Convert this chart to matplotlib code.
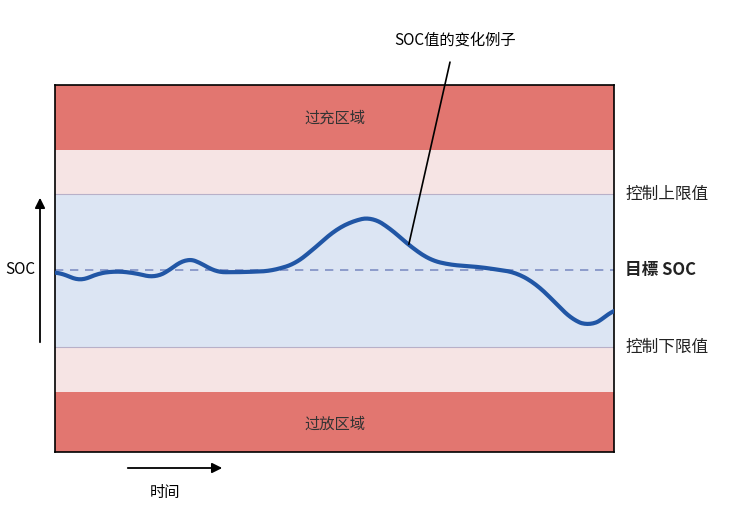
import matplotlib.pyplot as plt
import numpy as np

plt.rcParams['font.family'] = ['Noto Sans CJK SC', 'DejaVu Sans']

# band limits (SOC %, 0 bottom .. 100 top)
bands = [0, 16.3, 28.6, 70.3, 82.3, 100]
band_colors = ["#E27670", "#F6E4E4", "#DCE5F3", "#F6E4E4", "#E27670"]
target_soc = 49.6

t = [0, 1.8, 4.5, 7.2, 10.7, 14.3, 17.9, 20.6, 23.3, 25.9, 28.6, 33.1, 38.5,
     42.9, 46.5, 50.1, 53.7, 56.7, 59.9, 63.5, 67.1, 70.7, 76.0, 79.6, 82.3,
     85.9, 89.4, 92.5, 95.7, 98.4, 100]
soc = [49.0, 48.5, 46.3, 48.5, 49.3, 48.8, 47.4, 49.6, 52.9, 51.8, 49.0, 49.0,
       49.3, 51.2, 55.6, 60.5, 63.2, 64.0, 61.0, 56.1, 52.3, 51.0, 50.4, 49.6,
       49.0, 46.0, 40.9, 36.0, 34.3, 36.5, 39.2]

fig = plt.figure(figsize=(7.34, 5.15), dpi=100)
ax = fig.add_axes([0.0749, 0.1223, 0.7616, 0.7126])
for lo, hi, c in zip(bands[:-1], bands[1:], band_colors):
    ax.axhspan(lo, hi, color=c, zorder=0, lw=0)
for y in (bands[2], bands[3]):
    ax.axhline(y, color="#B8B0C8", lw=0.8, zorder=1)
ax.axhline(target_soc, color="#7F8FC4", lw=1.2, ls=(0, (5, 4)), zorder=2)

# light smoothing by interpolation between read points
tt = np.linspace(0, 100, 400)
ss = np.interp(tt, t, soc)
k = np.ones(15) / 15
ss = np.convolve(np.pad(ss, 7, mode="edge"), k, mode="valid")
ax.plot(tt, ss, color="#2156A5", lw=3, zorder=3, solid_capstyle="round")

ax.text(50, 91, "过充区域", ha="center", va="center", fontsize=11, color="#333")
ax.text(50, 7.5, "过放区域", ha="center", va="center", fontsize=11, color="#333")
ax.set_xlim(0, 100)
ax.set_ylim(0, 100)
ax.set_xticks([])
ax.set_yticks([])
for s in ax.spines.values():
    s.set_linewidth(1.2)

# annotation line
ax.annotate("SOC值的变化例子", xy=(63.3, 56.6), xycoords="data",
            xytext=(455 / 734, 1 - 40 / 515), textcoords="figure fraction",
            ha="center", va="center", fontsize=11,
            arrowprops=dict(arrowstyle="-", color="black", lw=1.2,
                            shrinkA=8, shrinkB=0))

lab = dict(transform=fig.transFigure, va="center", ha="left", fontsize=12, color="#222")
fig.text(625 / 734, 1 - 194 / 515, "控制上限值", **lab)
fig.text(625 / 734, 1 - 270 / 515, "目標 SOC", fontweight="bold", **lab)
fig.text(625 / 734, 1 - 347 / 515, "控制下限值", **lab)
fig.text(20 / 734, 1 - 270 / 515, "SOC", transform=fig.transFigure, va="center",
         ha="center", fontsize=11)
fig.text(165 / 734, 1 - 492 / 515, "时间", transform=fig.transFigure, va="center",
         ha="center", fontsize=11)

fig.patches.append(plt.matplotlib.patches.FancyArrowPatch(
    (40 / 734, 1 - 345 / 515), (40 / 734, 1 - 195 / 515), transform=fig.transFigure,
    arrowstyle="-|>,head_length=6,head_width=3", color="black", lw=1.3))
fig.patches.append(plt.matplotlib.patches.FancyArrowPatch(
    (125 / 734, 1 - 468 / 515), (225 / 734, 1 - 468 / 515), transform=fig.transFigure,
    arrowstyle="-|>,head_length=6,head_width=3", color="black", lw=1.3))

fig.savefig("out.png", dpi=100)
